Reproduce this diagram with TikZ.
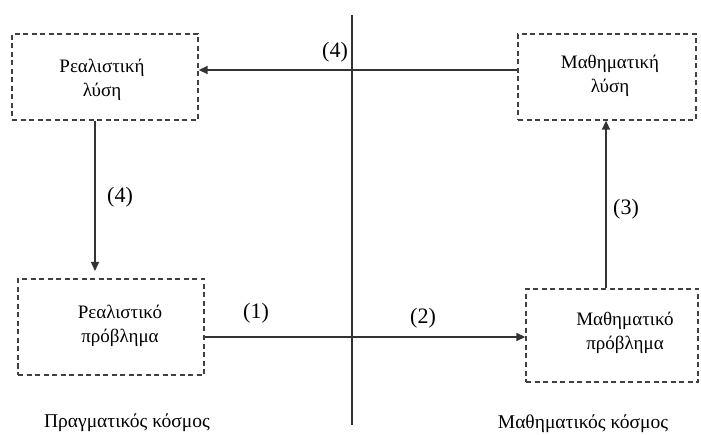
\documentclass[tikz,border=0pt]{standalone}
\usepackage{fontspec}
\setmainfont{Liberation Serif}
\usetikzlibrary{arrows.meta}
\begin{document}
\begin{tikzpicture}[x=1pt,y=-1pt,
  box/.style={draw=black!75, line width=1.3pt, dash pattern=on 5pt off 3.5pt, minimum width=#1, minimum height=86pt, inner sep=0pt},
  conn/.style={draw=black!80, line width=1.4pt, -{Triangle[length=9pt,width=8pt]}},
  btxt/.style={font=\fontsize{19}{24}\selectfont, align=center},
  lbl/.style={font=\fontsize{22}{24}\selectfont},
  world/.style={font=\fontsize{19.5}{22}\selectfont}]
\useasboundingbox (0,0) rectangle (701,435);
\node[box=186pt] (rl) at (105,77) {};
\node[box=178pt] (ml) at (607,77) {};
\node[box=186pt, minimum height=96pt] (rp) at (111,327) {};
\node[box=172pt, minimum height=93pt] (mp) at (612,335.5) {};
\node[btxt] (rlt) at (102,80) {Ρεαλιστική\\λύση};
\node[btxt] (mlt) at (610,76) {Μαθηματική\\λύση};
\node[btxt] (rpt) at (120,326) {Ρεαλιστικό\\πρόβλημα};
\node[btxt] (mpt) at (625,333) {Μαθηματικό\\πρόβλημα};
\coordinate (vt) at (352,15);
\coordinate (vb) at (352,425);
\draw[draw=black!80, line width=1.4pt] (vt) -- (vb);
\draw[conn] (ml.west |- 0,70) -- (rl.east |- 0,70);
\draw[conn] (rp.east |- 0,337) -- (mp.west |- 0,337);
\coordinate (la) at (95,120);
\coordinate (lb) at (95,271);
\draw[conn] (rl.south -| la) -- (lb);
\draw[conn] (mp.north -| 606,0) -- (ml.south -| 606,0);
\node[lbl] (n4a) at (335,52) {(4)};
\node[lbl] (n1) at (256,313) {(1)};
\node[lbl] (n2) at (423,318) {(2)};
\node[lbl] (n4b) at (120,197) {(4)};
\node[lbl] (n3) at (626,209) {(3)};
\node[world] (pk) at (127,423) {Πραγματικός κόσμος};
\node[world] (mk) at (583,424) {Μαθηματικός κόσμος};
\end{tikzpicture}
\end{document}
